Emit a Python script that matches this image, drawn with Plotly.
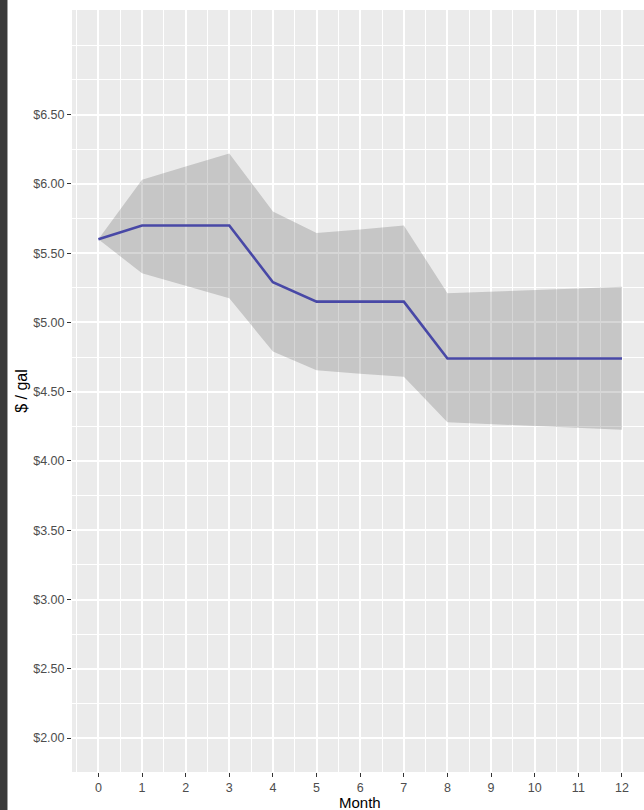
import plotly.graph_objects as go

months = list(range(13))
mean_price = [5.60, 5.70, 5.70, 5.70, 5.29, 5.15, 5.15, 5.15, 4.74, 4.74, 4.74, 4.74, 4.74]
upper_price = [5.60, 6.03, 6.125, 6.22, 5.80, 5.645, 5.67, 5.70, 5.21, 5.22, 5.235, 5.245, 5.258]
lower_price = [5.60, 5.355, 5.265, 5.175, 4.79, 4.655, 4.63, 4.608, 4.28, 4.265, 4.25, 4.238, 4.225]

y_ticks = [2.0, 2.5, 3.0, 3.5, 4.0, 4.5, 5.0, 5.5, 6.0, 6.5]
y_labels = ["$%.2f" % v for v in y_ticks]
y_minor = [2.25, 2.75, 3.25, 3.75, 4.25, 4.75, 5.25, 5.75, 6.25, 6.75, 7.0]
x_minor = [m - 0.5 for m in months] + [12.5]

fig = go.Figure()
fig.add_trace(go.Scatter(
    x=months, y=lower_price, mode="lines", line=dict(width=0),
    hoverinfo="skip", showlegend=False))
fig.add_trace(go.Scatter(
    x=months, y=upper_price, mode="lines", line=dict(width=0),
    fill="tonexty", fillcolor="rgba(51,51,51,0.2)",
    hoverinfo="skip", showlegend=False))
fig.add_trace(go.Scatter(
    x=months, y=mean_price, mode="lines",
    line=dict(color="#4848A6", width=2.6), showlegend=False))

fig.update_layout(
    width=644, height=810,
    margin=dict(l=72, r=0, t=10, b=38),
    paper_bgcolor="white", plot_bgcolor="#EBEBEB",
    font=dict(family="Liberation Sans, Arial, sans-serif", color="#4D4D4D"),
    shapes=[dict(type="rect", xref="paper", yref="paper",
                 x0=-0.14, x1=-0.1128, y0=-0.06, y1=1.02,
                 fillcolor="#3a3a3a", line=dict(width=0), layer="above")],
    annotations=[
        dict(text="Month", xref="paper", yref="paper", x=0.503, y=-0.0402,
             yanchor="middle", xanchor="center", showarrow=False,
             font=dict(size=15, color="black")),
        dict(text="$ / gal", xref="paper", yref="paper", x=-0.0895, y=0.5,
             xanchor="center", yanchor="middle", textangle=-90, showarrow=False,
             font=dict(size=16, color="black")),
    ],
)
fig.update_xaxes(
    range=[-0.605, 12.505], tickmode="array", tickvals=months,
    ticktext=[str(m) for m in months],
    showgrid=True, gridcolor="white", gridwidth=1.6, zeroline=False,
    ticks="outside", ticklen=4, tickcolor="#333333", tickwidth=1.2,
    tickfont=dict(size=12.5, color="#4D4D4D"), showline=False,
    minor=dict(tickmode="array", tickvals=x_minor, showgrid=True,
               gridcolor="white", gridwidth=0.8, ticks=""),
)
fig.update_yaxes(
    range=[1.755, 7.255], tickmode="array", tickvals=y_ticks, ticktext=y_labels,
    showgrid=True, gridcolor="white", gridwidth=1.6, zeroline=False,
    ticks="outside", ticklen=4, tickcolor="#333333", tickwidth=1.2,
    tickfont=dict(size=12.5, color="#4D4D4D"), showline=False,
    minor=dict(tickmode="array", tickvals=y_minor, showgrid=True,
               gridcolor="white", gridwidth=0.8, ticks=""),
)

fig.write_html(
    "out.html",
    config={"displayModeBar": False},
    post_script="document.body.style.margin='0';document.body.style.overflow='hidden';",
)
